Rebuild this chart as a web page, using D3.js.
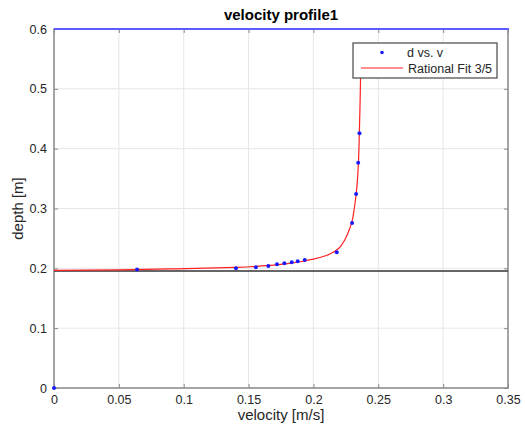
<!DOCTYPE html>
<html><head><meta charset="utf-8">
<script src="https://cdn.jsdelivr.net/npm/d3@7"></script>
<style>body{margin:0;background:#fff}svg{display:block}text{font-family:"Liberation Sans",Arial,sans-serif}</style>
</head><body>
<script>
const xTicks = [0,0.05,0.1,0.15,0.2,0.25,0.3,0.35];
const yTicks = [0,0.1,0.2,0.3,0.4,0.5,0.6];
// measured points d vs. v
const ptV = [0,0.064,0.1403,0.1557,0.1652,0.1719,0.1776,0.1833,0.1879,0.1933,0.2180,0.2298,0.2329,0.2345,0.2355];
const ptD = [0,0.198,0.200,0.2017,0.2039,0.2067,0.2084,0.2100,0.2117,0.2139,0.2268,0.2757,0.3242,0.3765,0.4256];
// rational fit curve
const fitV = [0,0.05,0.1,0.14,0.16,0.18,0.19,0.20,0.21,0.215,0.22,0.224,0.227,0.2295,0.2315,0.233,0.234,0.2347,0.2354,0.2360,0.2364,0.2366];
const fitD = [0.1965,0.1975,0.1995,0.2015,0.2040,0.2080,0.2110,0.2155,0.2215,0.2265,0.2345,0.2470,0.2610,0.2760,0.3000,0.3250,0.3500,0.3770,0.4260,0.4800,0.5300,0.5600];
const bottomLevel = 0.1955;
const surfaceLevel = 0.6;

const W=525,H=434;
const m={l:54,r:17,t:29,b:46};
const svg=d3.select("body").append("svg").attr("width",W).attr("height",H);
const x=d3.scaleLinear().domain([0,0.35]).range([m.l,W-m.r]);
const y=d3.scaleLinear().domain([0,0.6]).range([H-m.b,m.t]);
const axisCol="#8a8a8a", txtCol="#262626";

// grid
svg.append("g").selectAll("line").data(xTicks).join("line")
 .attr("x1",d=>x(d)).attr("x2",d=>x(d)).attr("y1",y(0)).attr("y2",y(0.6))
 .attr("stroke","#e6e6e6").attr("stroke-width",1);
svg.append("g").selectAll("line").data(yTicks).join("line")
 .attr("y1",d=>y(d)).attr("y2",d=>y(d)).attr("x1",x(0)).attr("x2",x(0.35))
 .attr("stroke","#e6e6e6").attr("stroke-width",1);

// axes
function styleAxis(g){g.select(".domain").remove();g.selectAll(".tick line").attr("stroke",axisCol);g.selectAll(".tick text").attr("fill",txtCol).style("font-size","12.5px");}
svg.append("g").attr("transform",`translate(0,${y(0)})`)
 .call(d3.axisBottom(x).tickValues(xTicks).tickSize(-4).tickPadding(7).tickFormat(d=>d3.format("")(d)))
 .call(styleAxis);
svg.append("g").attr("transform",`translate(0,${y(0.6)})`)
 .call(d3.axisTop(x).tickValues(xTicks).tickSize(-4).tickFormat(""))
 .call(styleAxis);
svg.append("g").attr("transform",`translate(${x(0)},0)`)
 .call(d3.axisLeft(y).tickValues(yTicks).tickSize(-4).tickPadding(7).tickFormat(d=>d3.format("")(d)))
 .call(styleAxis);
svg.append("g").attr("transform",`translate(${x(0.35)},0)`)
 .call(d3.axisRight(y).tickValues(yTicks).tickSize(-4).tickFormat(""))
 .call(styleAxis);
svg.append("rect").attr("x",x(0)).attr("y",y(0.6)).attr("width",x(0.35)-x(0)).attr("height",y(0)-y(0.6))
 .attr("fill","none").attr("stroke",axisCol).attr("stroke-width",1.5);

// black bottom line
svg.append("line").attr("x1",x(0)).attr("x2",x(0.35)).attr("y1",y(bottomLevel)).attr("y2",y(bottomLevel))
 .attr("stroke","#333").attr("stroke-width",1.5);
// blue surface line
svg.append("line").attr("x1",x(0)).attr("x2",x(0.35)+1).attr("y1",y(surfaceLevel)).attr("y2",y(surfaceLevel))
 .attr("stroke","#5b5bff").attr("stroke-width",2);

// fit curve
const fit=fitV.map((v,i)=>[v,fitD[i]]);
svg.append("path").datum(fit).attr("fill","none").attr("stroke","#ff2020").attr("stroke-width",1.2)
 .attr("d",d3.line().x(d=>x(d[0])).y(d=>y(d[1])).curve(d3.curveMonotoneY));
// points
svg.append("g").selectAll("circle").data(ptV.map((v,i)=>[v,ptD[i]])).join("circle")
 .attr("cx",d=>x(d[0])).attr("cy",d=>y(d[1])).attr("r",2).attr("fill","#1a1aff");

// legend
const lg=svg.append("g");
lg.append("rect").attr("x",353).attr("y",43).attr("width",144).attr("height",35)
 .attr("fill","#fff").attr("stroke","#555").attr("stroke-width",1.3);
lg.append("circle").attr("cx",382).attr("cy",52.5).attr("r",1.8).attr("fill","#1a1aff");
lg.append("text").attr("x",407).attr("y",57).attr("fill",txtCol).style("font-size","12.5px").text("d vs. v");
lg.append("line").attr("x1",361).attr("x2",403).attr("y1",68).attr("y2",68).attr("stroke","#ff2020").attr("stroke-width",1.2);
lg.append("text").attr("x",408).attr("y",72.5).attr("fill",txtCol).style("font-size","12.5px").text("Rational Fit 3/5");

// titles
svg.append("text").attr("x",(x(0)+x(0.35))/2).attr("y",20).attr("text-anchor","middle")
 .style("font-size","15px").style("font-weight","bold").attr("fill","#000").text("velocity profile1");
svg.append("text").attr("x",(x(0)+x(0.35))/2).attr("y",420).attr("text-anchor","middle")
 .style("font-size","15px").attr("fill",txtCol).text("velocity [m/s]");
svg.append("text").attr("transform",`translate(23,${(y(0)+y(0.6))/2}) rotate(-90)`).attr("text-anchor","middle")
 .style("font-size","15px").attr("fill",txtCol).text("depth [m]");
</script>
</body></html>
